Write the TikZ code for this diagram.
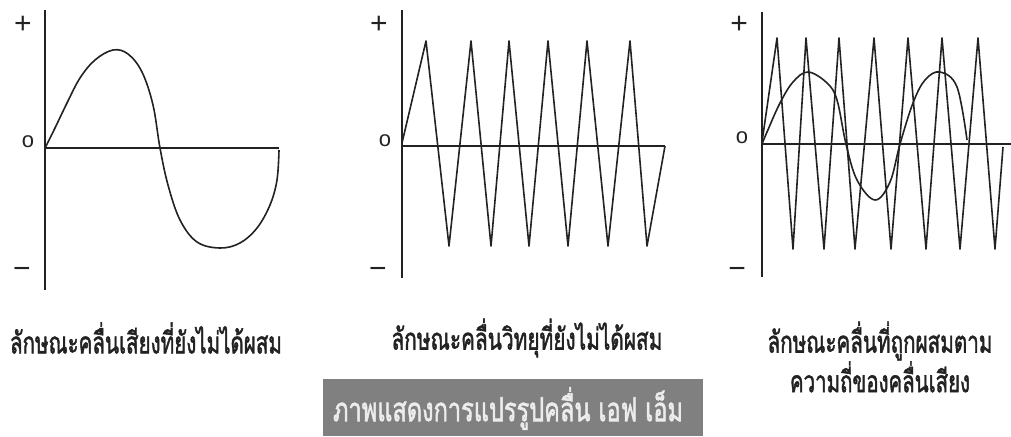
\documentclass[tikz,border=0pt]{standalone}
\usepackage{graphicx}
\usepackage{fontspec}
\setmainfont{Liberation Sans}
\newfontfamily\thaifont[Script=Thai,FakeBold=2]{Loma}
\usetikzlibrary{positioning}
\definecolor{inkgray}{HTML}{222222}
\definecolor{boxgray}{HTML}{808080}
\definecolor{boxtext}{HTML}{ECECEC}
\newcommand\fitline[2]{\resizebox{#1}{\height}{#2}}

\begin{document}
\begin{tikzpicture}[x=1pt,y=-1pt,
  axis/.style={draw=inkgray,line width=1.5pt},
  wave/.style={draw=inkgray,line width=1.6pt,line join=round},
  sign/.style={font=\fontsize{30}{30}\selectfont,inner sep=0pt,text=inkgray},
  zero/.style={font=\fontsize{22}{22}\selectfont,inner sep=0pt,text=inkgray},
  caption/.style={font=\thaifont\fontsize{30}{32}\selectfont,align=center,inner sep=0pt,text=inkgray}]
\useasboundingbox (0,0) rectangle (1011,436);

% audio wave, not yet mixed
\draw[axis] (45,10) -- (45,290);
\draw[axis] (45,148) -- (279,148);
\node[sign] (plusA) at (23,25) {+};
\node[zero] (zeroA) at (28,142) {o};
\node[sign] (minusA) at (22,273) {−};
\draw[wave] plot[smooth,tension=0.6] coordinates {(45,148) (55,128) (67,103) (80,78) (95,60)
  (113,50) (128,54) (142,72) (153,105) (160,148) (168,185) (180,220) (197,242) (220,248)
  (240,243) (257,228) (270,205) (277,180) (279,150)};

% radio carrier, not yet mixed
\draw[axis] (402,10) -- (402,278);
\draw[axis] (402,146) -- (665,146);
\node[sign] (plusB) at (379,25) {+};
\node[zero] (zeroB) at (385,141) {o};
\node[sign] (minusB) at (378,273) {−};
\draw[wave] (402,143) -- (426,41) -- (449,246) -- (471,41) -- (491,246) -- (509,41)
  -- (529,246) -- (548,41) -- (568,246) -- (587,41) -- (608,246) -- (630,41)
  -- (647,246) -- (665,146);

% carrier mixed with the audio frequency
\draw[axis] (762,12) -- (762,277);
\draw[axis] (762,144) -- (1011,144);
\node[sign] (plusC) at (739,25) {+};
\node[zero] (zeroC) at (742,138) {o};
\node[sign] (minusC) at (737,273) {−};
\draw[wave] (762,142) -- (777,38) -- (793,249) -- (806,38) -- (824,249) -- (839,38)
  -- (855,249) -- (874,38) -- (891,249) -- (908,38) -- (926,249) -- (942,38)
  -- (960,249) -- (978,38) -- (995,249) -- (1003,147);
\draw[wave] plot[smooth,tension=0.6] coordinates {(762,144) (767,132) (780,103) (793,82)
  (808,72) (827,83) (837,100) (846,144) (857,180) (875,200) (890,182) (900,144)
  (913,103) (925,80) (940,72) (957,87) (967,140)};

% captions
\node[caption] (capA) at (146,338) {\fitline{272pt}{ลักษณะคลื่นเสียงที่ยังไม่ได้ผสม}};
\node[caption] (capB) at (527,338) {\fitline{271pt}{ลักษณะคลื่นวิทยุที่ยังไม่ได้ผสม}};
\node[caption] (capC) at (880,357) {\fitline{225pt}{ลักษณะคลื่นที่ถูกผสมตาม}\\\fitline{180pt}{ความถี่ของคลื่นเสียง}};

% title bar
\node[fill=boxgray,minimum width=380pt,minimum height=57pt,inner sep=0pt] (title) at (513,407.5) {};
\node[caption,text=boxtext,font=\thaifont\fontsize{33}{36}\selectfont] (titletext)
  at ([xshift=-5pt,yshift=-1pt]title.center) {\fitline{350pt}{ภาพแสดงการแปรรูปคลื่น เอฟ เอ็ม}};
\end{tikzpicture}
\end{document}
